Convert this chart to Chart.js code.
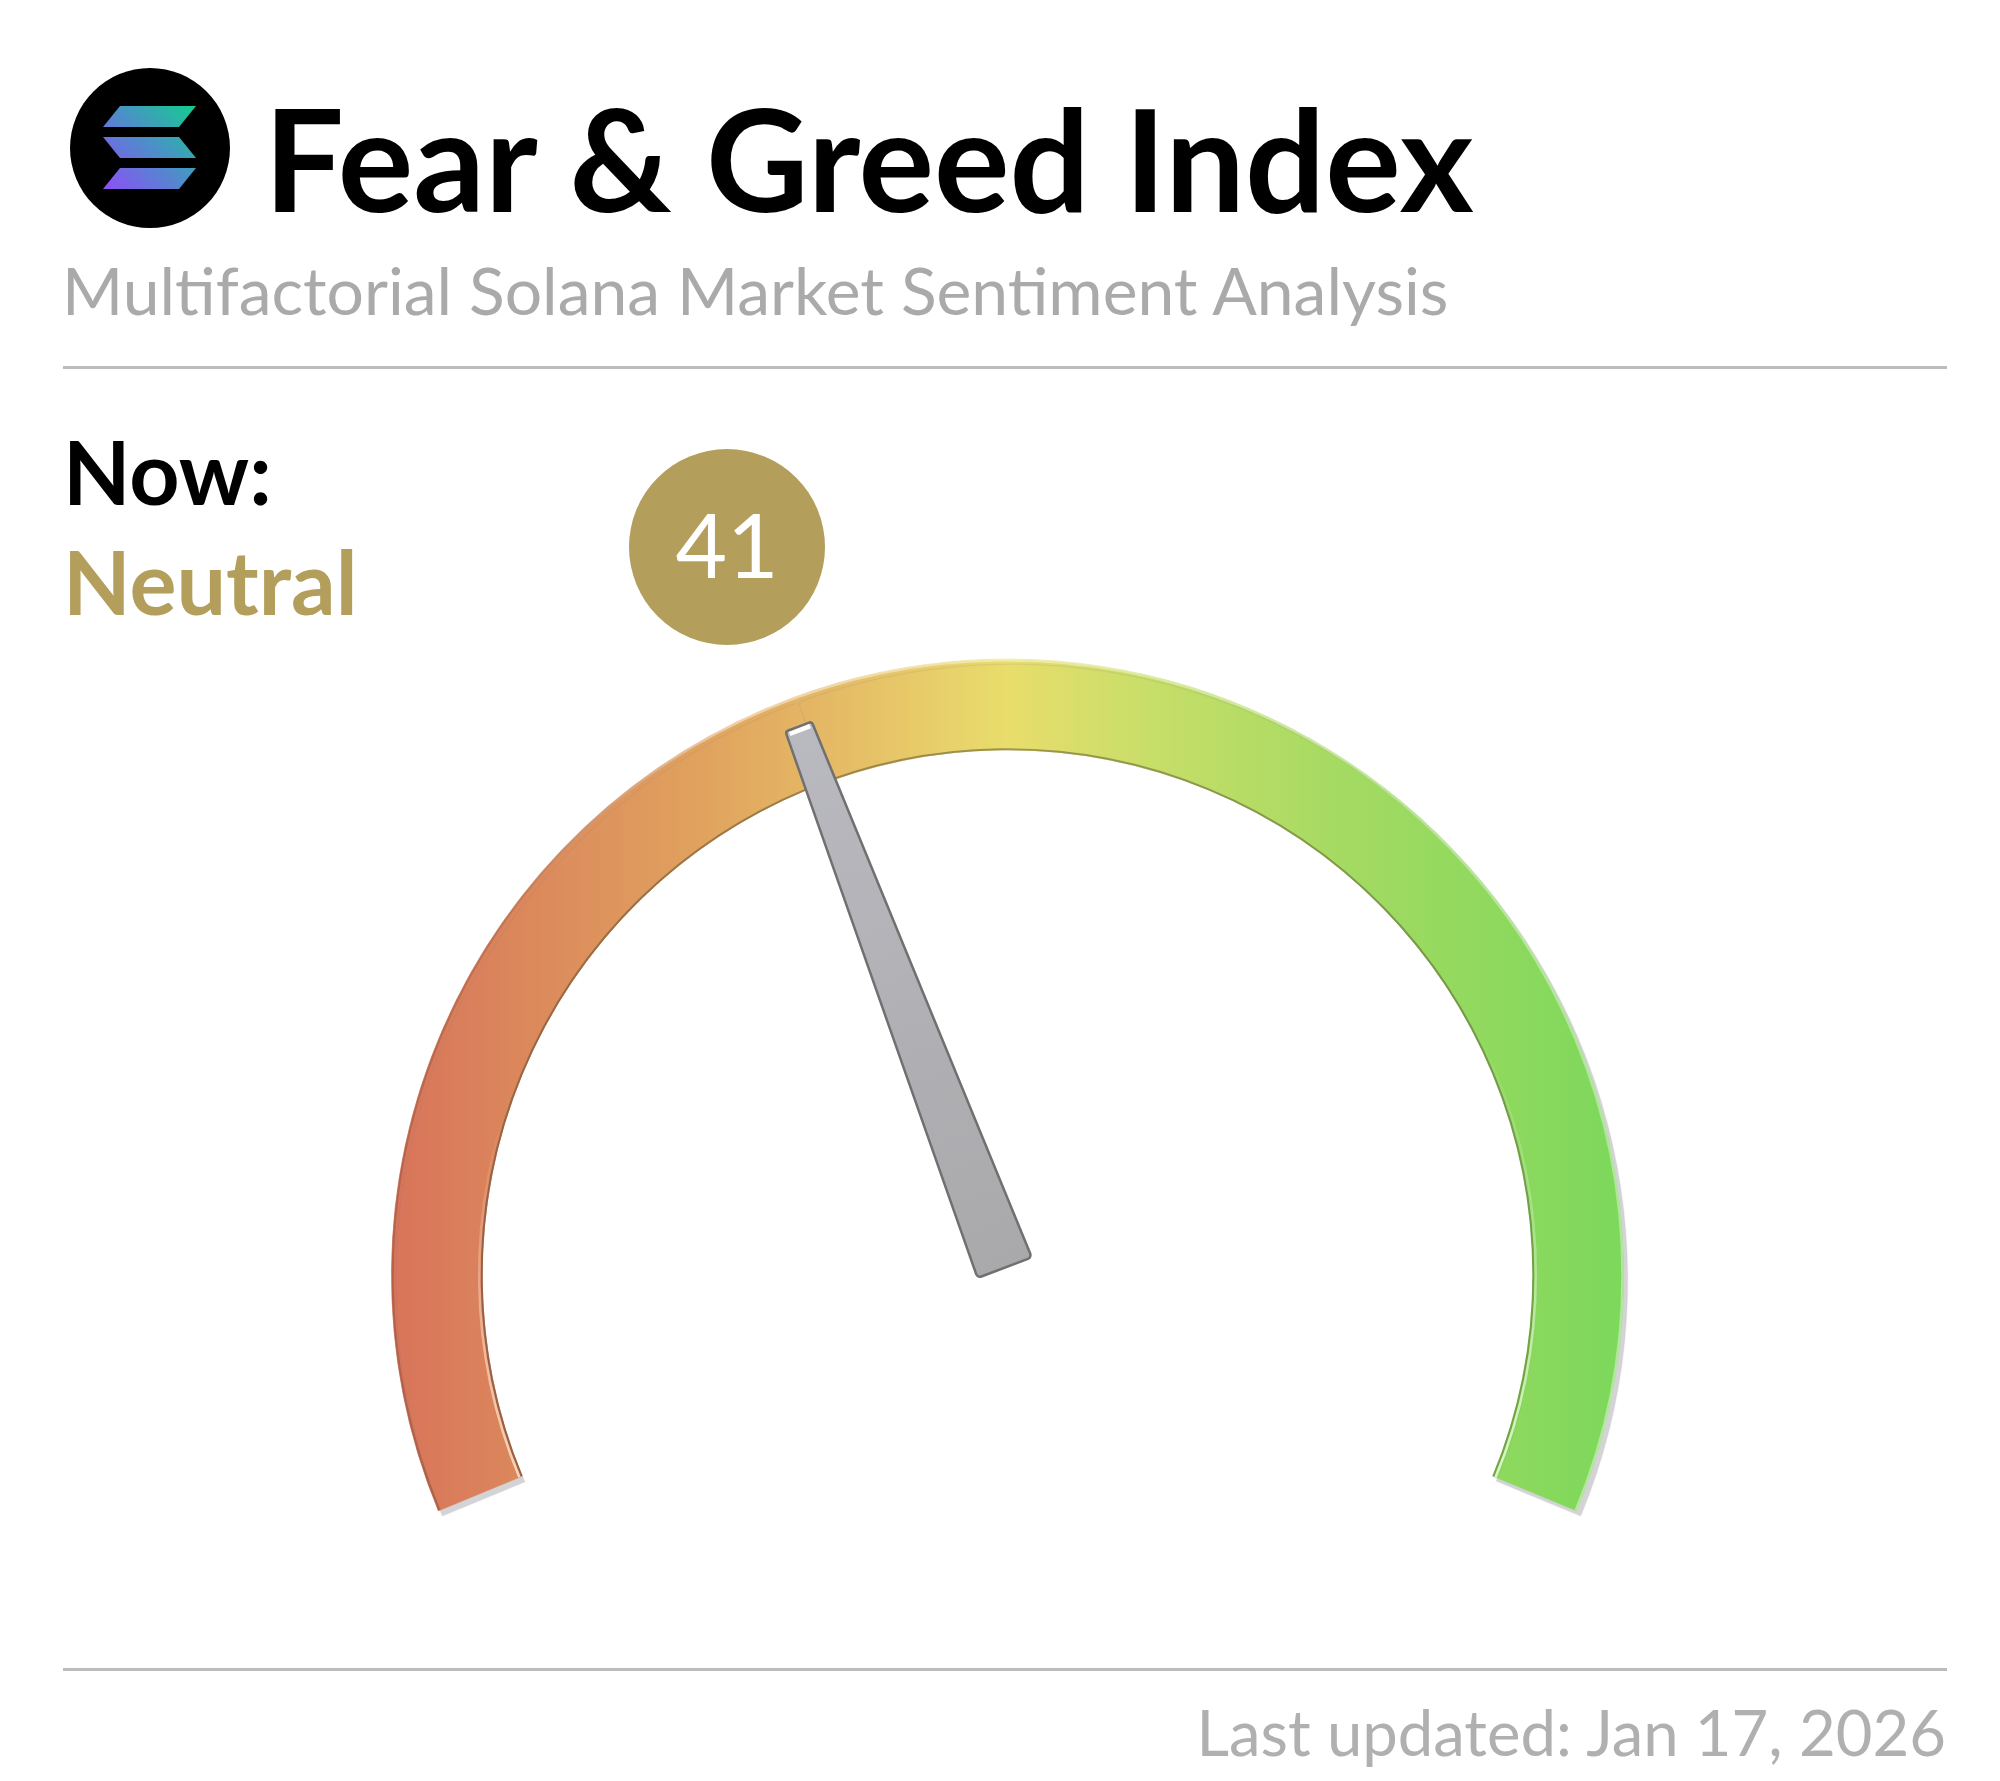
<!DOCTYPE html>
<html>
<head>
<meta charset="utf-8">
<title>Fear & Greed Index</title>
<script src="https://cdn.jsdelivr.net/npm/chart.js@4"></script>
<style>
  html, body { margin: 0; background: #fff; }
  body { position: relative; width: 2000px; height: 1781px; overflow: hidden; font-family: Lato, sans-serif; }
  #gauge { position: absolute; left: 0; top: 0; }
  .txt { position: absolute; line-height: 1; white-space: nowrap; }
  #title { left: 264px; top: 87px; font-size: 141.5px; font-weight: 700; color: #000; }
  #subtitle { left: 62px; top: 257px; font-size: 66px; color: #aaa; }
  #now { left: 63px; top: 428px; font-size: 87.7px; font-weight: 700; color: #000; }
  #state { left: 63px; top: 537px; font-size: 88px; font-weight: 700; color: #b39e5b; }
  #badge { position: absolute; left: 629px; top: 449px; width: 196px; height: 196px; border-radius: 50%; background: #b39e5b;
           color: #fff; font-size: 89px; line-height: 190px; text-align: center; }
  #updated { right: 54px; top: 1700px; font-size: 63.4px; color: #b0b0b0; }
  .rule { position: absolute; left: 63px; width: 1884px; height: 3px; background: #bcbcbc; }
  #logo { position: absolute; left: 70px; top: 68px; }
</style>
</head>
<body>
<canvas id="gauge" width="2000" height="1781"></canvas>

<svg id="logo" width="160" height="160" viewBox="0 0 160 160">
  <defs>
    <linearGradient id="sol" gradientUnits="userSpaceOnUse" x1="35" y1="125" x2="125" y2="35">
      <stop offset="0" stop-color="#8f4df8"/>
      <stop offset="0.5" stop-color="#4f8ccb"/>
      <stop offset="1" stop-color="#12cf8c"/>
    </linearGradient>
  </defs>
  <circle cx="80" cy="80" r="80" fill="#000"/>
  <g fill="url(#sol)">
    <path d="M50 38 H126 L109 59 H33 Z"/>
    <path d="M33 69 H109 L126 90 H50 Z"/>
    <path d="M50 100 H126 L109 121 H33 Z"/>
  </g>
</svg>

<div class="txt" id="title">Fear &amp; Greed Index</div>
<div class="txt" id="subtitle">Multifactorial Solana Market Sentiment Analysis</div>
<div class="rule" style="top:366px"></div>
<div class="txt" id="now">Now:</div>
<div class="txt" id="state"></div>
<div id="badge"></div>
<div class="rule" style="top:1668px"></div>
<div class="txt" id="updated">Last updated: Jan 17, 2026</div>

<script>
/* =========================
   DATA
========================= */
const sentimentLabel = "Neutral";
const scaleLabels = ["Index", "Remaining"];
const scaleValues = [41, 59];

/* =========================
   GAUGE LOOK
========================= */
const SWEEP = 225;
const NEEDLE_TILT = -0.6; // degrees, the needle in the picture sits a hair left of its value
const gradStops = [
  [0, "#d8745a"],
  [0.25, "#e0a25e"],
  [0.38, "#e6bf67"],
  [0.5, "#e9dd6c"],
  [0.62, "#c6de68"],
  [0.78, "#a3da62"],
  [1, "#7cd85b"]
];

document.getElementById("state").innerText = sentimentLabel;
document.getElementById("badge").innerText = scaleValues[0];

function ringGradient(context) {
  const arc = context.chart.getDatasetMeta(0).data[0];
  const cx = arc && arc.outerRadius ? arc.x : 1008;
  const r = arc && arc.outerRadius ? arc.outerRadius : 616;
  const g = context.chart.ctx.createLinearGradient(cx - r, 0, cx + r, 0);
  gradStops.forEach(s => g.addColorStop(s[0], s[1]));
  return g;
}

/* soft bevel + drop shadow under the ring */
const ringShadow = {
  id: "ringShadow",
  beforeDatasetDraw(chart) {
    const c = chart.ctx;
    const arc = chart.getDatasetMeta(0).data[0];
    c.save();
    // no shadow inside the ring
    c.beginPath();
    c.rect(0, 0, chart.width, chart.height);
    c.arc(arc.x, arc.y, arc.innerRadius, 0, Math.PI * 2);
    c.clip("evenodd");
    c.shadowColor = "rgba(120,120,130,0.32)";
    c.shadowOffsetX = 4;
    c.shadowOffsetY = 5;
    c.shadowBlur = 1;
  },
  afterDatasetDraw(chart) {
    const c = chart.ctx;
    c.restore();
    const arc = chart.getDatasetMeta(0).data[0];
    const deg = Math.PI / 180;
    const start = arc.startAngle;
    // edge colours fade along the sweep, stops are [degrees from start, colour]
    const edge = (r, w, stops) => {
      const g = c.createConicGradient(start, arc.x, arc.y);
      stops.forEach(s => g.addColorStop(s[0] / 360, s[1]));
      c.beginPath();
      c.arc(arc.x, arc.y, r, start, start + SWEEP * deg);
      c.strokeStyle = g;
      c.lineWidth = w;
      c.stroke();
    };
    c.save();
    edge(arc.outerRadius - 1, 2.5, [
      [0, "rgba(120,60,40,0.4)"],
      [55, "rgba(120,60,40,0.25)"],
      [85, "rgba(255,255,255,0.45)"],
      [130, "rgba(255,255,255,0.35)"],
      [SWEEP, "rgba(255,255,255,0.4)"],
      [360, "rgba(255,255,255,0)"]
    ]);
    edge(arc.innerRadius + 1, 2, [
      [0, "rgba(110,70,50,0.6)"],
      [SWEEP, "rgba(90,110,50,0.5)"],
      [360, "rgba(0,0,0,0)"]
    ]);
    edge(arc.innerRadius + 3.5, 2.5, [
      [0, "rgba(255,235,215,0.8)"],
      [40, "rgba(255,235,215,0)"],
      [175, "rgba(235,255,220,0)"],
      [SWEEP, "rgba(235,255,220,0.8)"],
      [360, "rgba(0,0,0,0)"]
    ]);
    c.restore();
  }
};

/* needle follows the end angle of the first slice */
const needle = {
  id: "needle",
  afterDraw(chart) {
    const arc = chart.getDatasetMeta(0).data[0];
    const c = chart.ctx;
    const len = 587;
    c.save();
    c.translate(arc.x, arc.y);
    c.rotate(arc.endAngle + Math.PI / 2 + NEEDLE_TILT * Math.PI / 180);
    const g = c.createLinearGradient(0, -len, 0, 0);
    g.addColorStop(0, "#b9b9c0");
    g.addColorStop(1, "#a9a9ab");
    c.beginPath();
    c.moveTo(0, -len);
    c.arcTo(14, -len, 29, -8, 3);
    c.arcTo(29, -8, -29, -8, 4);
    c.arcTo(-29, -8, -14, -len, 4);
    c.arcTo(-14, -len, 0, -len, 3);
    c.closePath();
    c.fillStyle = g;
    c.fill();
    c.strokeStyle = "#707070";
    c.lineWidth = 2.5;
    c.lineJoin = "round";
    c.stroke();
    // tip highlight
    c.fillStyle = "#fff";
    c.fillRect(-11, -len + 1.5, 22, 4.5);
    c.restore();
  }
};

/* =========================
   CHART
========================= */
new Chart(document.getElementById("gauge"), {
  type: "doughnut",
  data: {
    labels: scaleLabels,
    datasets: [{
      data: scaleValues,
      backgroundColor: ringGradient,
      borderColor: ringGradient,
      borderWidth: 0.6
    }]
  },
  options: {
    responsive: false,
    devicePixelRatio: 1,
    animation: false,
    rotation: -SWEEP / 2,
    circumference: SWEEP,
    radius: 616,
    cutout: "85.2%",
    layout: { padding: { top: 389, left: 15 } },
    plugins: {
      legend: { display: false },
      tooltip: { enabled: false }
    }
  },
  plugins: [ringShadow, needle]
});
</script>
</body>
</html>
